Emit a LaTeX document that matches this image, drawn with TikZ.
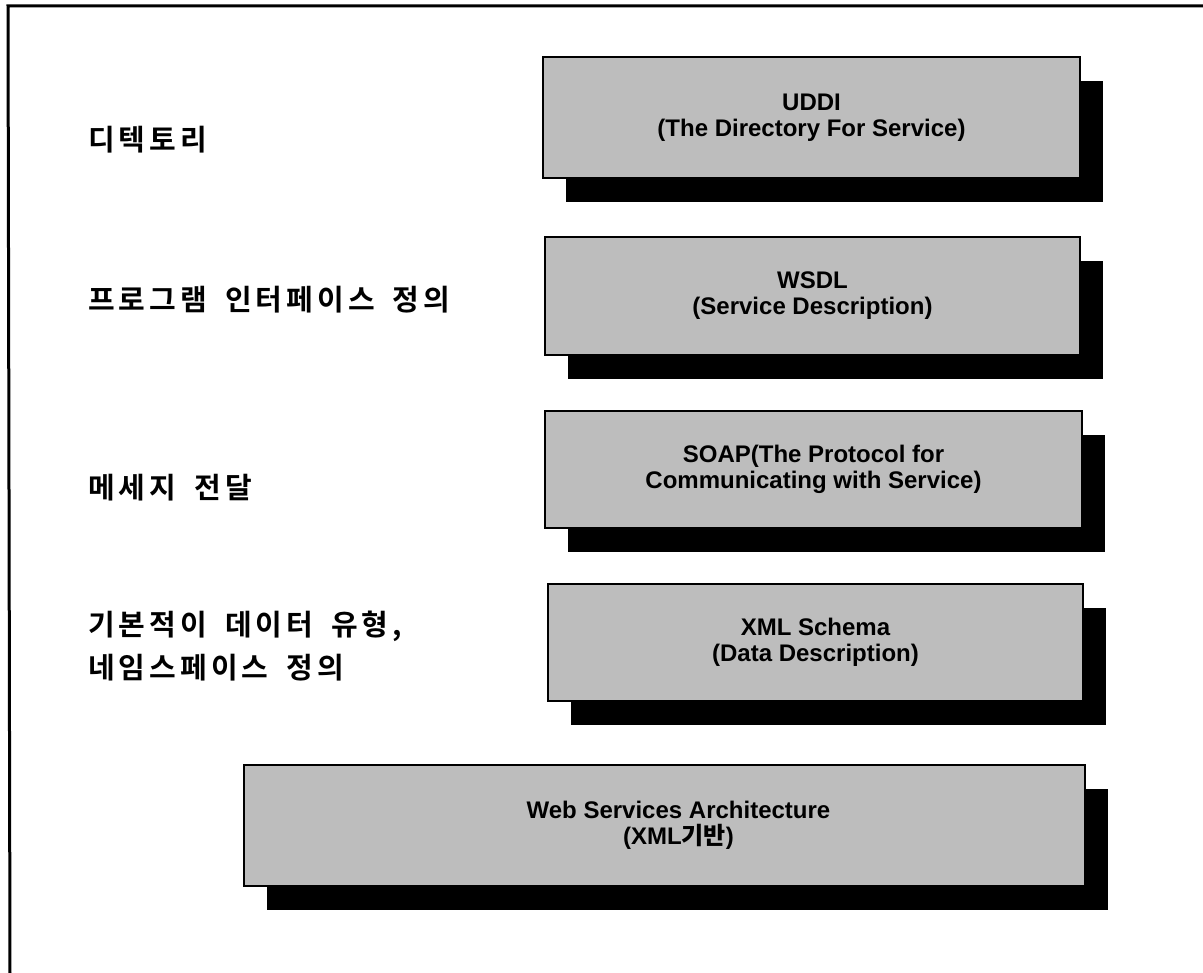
\documentclass[tikz,border=0pt]{standalone}
\usepackage{fontspec}
\setmainfont{Liberation Sans}
\newfontfamily\krb[LetterSpace=14]{Noto Sans CJK KR Bold}
\newfontfamily\krm{Noto Sans CJK KR Medium}
\newcommand{\ksp}{\hspace{18pt}}
\usetikzlibrary{shadows}
\tikzset{
  layerbox/.style={draw=black, line width=1.6pt, fill=black!26,
    align=center, inner sep=0pt,
    font=\fontsize{24}{26}\selectfont\bfseries,
    drop shadow={shadow xshift=23pt, shadow yshift=-24pt, fill=black, opacity=1}},
  boxtext/.style={align=center, inner sep=0pt,
    font=\fontsize{24}{26}\selectfont\bfseries},
  sidelabel/.style={anchor=west, align=left, inner sep=0pt,
    font=\fontsize{29}{43}\selectfont\krb},
  frameline/.style={line width=3pt}
}
\begin{document}
\begin{tikzpicture}[x=1pt, y=-1pt]
\useasboundingbox (0,0) rectangle (1203,973);
% frame
\coordinate (ftr) at (1203,6);
\coordinate (ftl) at (8,6);
\coordinate (fbl) at (10,973);
\draw[frameline] (ftr) -- (ftl) -- (fbl);
% layer boxes
\node[layerbox, minimum width=537pt, minimum height=121pt] (uddi) at (811.5,117.5)
  {UDDI\\(The Directory For Service)};
\node[layerbox, minimum width=535pt, minimum height=118pt] (wsdl) at (812.5,296)
  {WSDL\\(Service Description)};
\node[layerbox, minimum width=537pt, minimum height=117pt] (soap) at (813.5,469.5)
  {SOAP(The Protocol for\\Communicating with Service)};
\node[layerbox, minimum width=535pt, minimum height=117pt] (xml) at (815.5,642.5)
  {XML Schema\\(Data Description)};
\node[layerbox, minimum width=841pt, minimum height=121pt] (web) at (664.5,825.5) {};
\node[boxtext] (webtext) at ([xshift=14pt]web.center)
  {Web Services Architecture\\(XML{\krm 기반})};
% side labels
\node[sidelabel] (l1) at (88,140) {디텍토리};
\node[sidelabel] (l2) at (88,300) {프로그램\ksp 인터페이스\ksp 정의};
\node[sidelabel] (l3) at (88,488) {메세지\ksp 전달};
\node[sidelabel] (l4) at (88,646) {기본적이\ksp 데이터\ksp 유형,\\네임스페이스\ksp 정의};
\end{tikzpicture}
\end{document}
